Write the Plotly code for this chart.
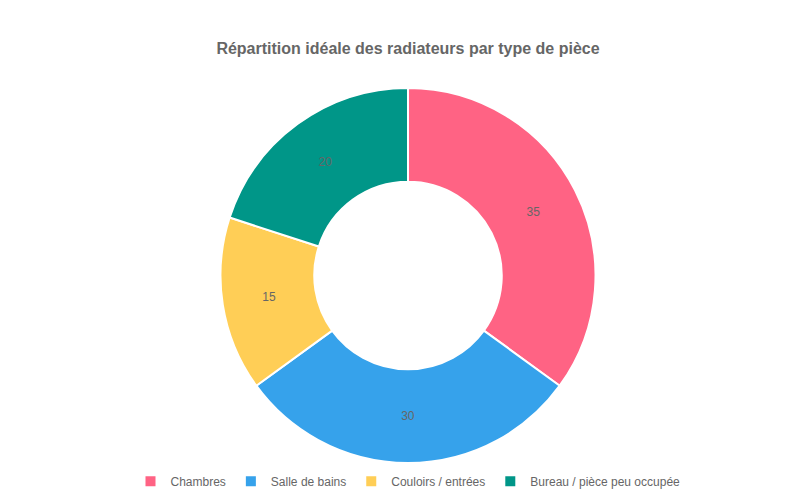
import plotly.graph_objects as go

labels = ["Chambres", "Salle de bains", "Couloirs / entrées", "Bureau / pièce peu occupée"]
values = [35, 30, 15, 20]
colors = ["#FF6384", "#36A2EB", "#FFCE56", "#009688"]

fig = go.Figure(go.Pie(
    labels=labels,
    values=values,
    hole=0.5,
    sort=False,
    direction="clockwise",
    rotation=0,
    marker=dict(colors=colors, line=dict(color="white", width=2)),
    textinfo="value",
    textposition="inside",
    insidetextorientation="horizontal",
    textfont=dict(color="#666666", size=12),
    hoverinfo="label+value",
))

fig.update_layout(
    width=800, height=500,
    paper_bgcolor="white",
    font=dict(family="Liberation Sans, Arial, sans-serif", color="#666666"),
    title=dict(text="<b>Répartition idéale des radiateurs par type de pièce</b>",
               x=0.5, y=0.92, xanchor="center", yanchor="middle",
               font=dict(size=16, color="#666666")),
    margin=dict(t=80, b=34, l=20, r=20),
    legend=dict(orientation="h", x=0.5, xanchor="center", y=-0.01, yanchor="top",
                font=dict(size=12, color="#666666")),
)

fig.write_html("out.html")
